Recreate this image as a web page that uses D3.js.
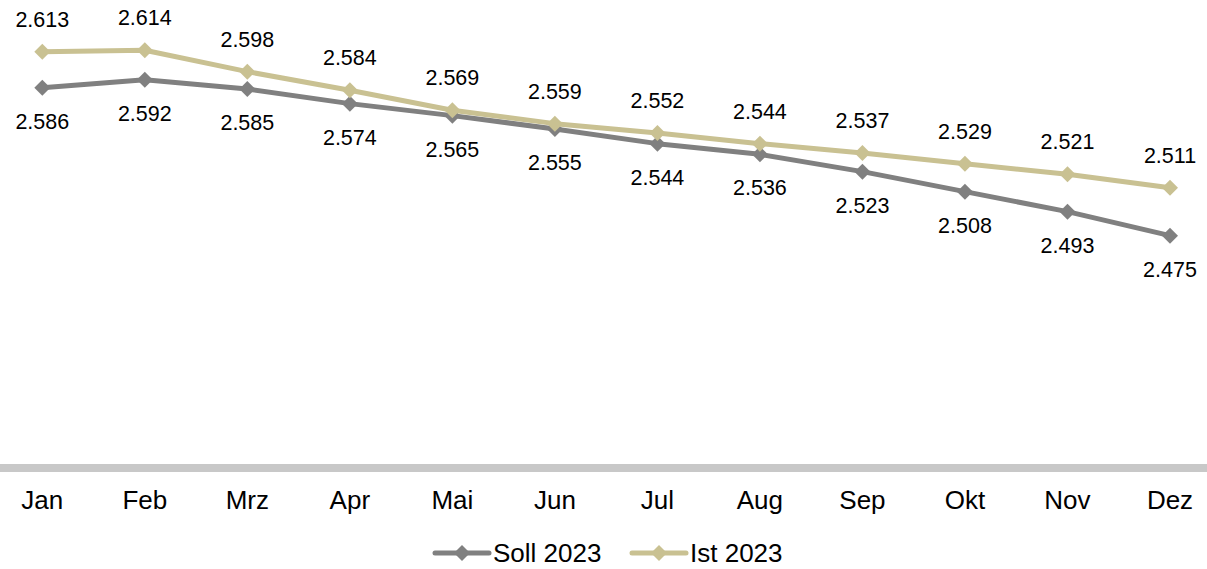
<!DOCTYPE html>
<html>
<head>
<meta charset="utf-8">
<script src="https://cdn.jsdelivr.net/npm/d3@7"></script>
<style>
  html, body { margin: 0; padding: 0; background: #fff; }
  svg { display: block; font-family: "Liberation Sans", Arial, sans-serif; }
</style>
</head>
<body>
<svg id="chart" width="1207" height="569"></svg>
<script>
const months = ["Jan", "Feb", "Mrz", "Apr", "Mai", "Jun", "Jul", "Aug", "Sep", "Okt", "Nov", "Dez"];
const soll2023 = [2586, 2592, 2585, 2574, 2565, 2555, 2544, 2536, 2523, 2508, 2493, 2475];
const ist2023 = [2613, 2614, 2598, 2584, 2569, 2559, 2552, 2544, 2537, 2529, 2521, 2511];
const seriesNames = ["Soll 2023", "Ist 2023"];
const yDomain = [2300, 2650];

const colors = { "Soll 2023": "#808080", "Ist 2023": "#C9C192" };
const series = [
  { name: seriesNames[0], values: soll2023, labelDy: 41 },
  { name: seriesNames[1], values: ist2023, labelDy: -25 }
];

const fmt = d3.formatLocale({ decimal: ",", thousands: ".", grouping: [3], currency: ["", "€"] }).format(",d");

const svg = d3.select("#chart");
const W = 1207, H = 569;

const x = d3.scalePoint().domain(months).range([42.3, 1170]);
const y = d3.scaleLinear().domain(yDomain).range([469, 2.3]);

// axis line
svg.append("line")
  .attr("x1", 0).attr("x2", W)
  .attr("y1", y(yDomain[0]) - 1).attr("y2", y(yDomain[0]) - 1)
  .attr("stroke", "#C8C8C8").attr("stroke-width", 8);

// month labels
svg.append("g").selectAll("text").data(months).join("text")
  .attr("x", d => x(d)).attr("y", 508.5)
  .attr("text-anchor", "middle")
  .attr("font-size", 26).attr("fill", "#000")
  .text(d => d);

const diamond = r => `M0,${-r}L${r},0L0,${r}L${-r},0Z`;
const line = d3.line().x((d, i) => x(months[i])).y(d => y(d));

series.forEach(s => {
  const g = svg.append("g");
  g.append("path").datum(s.values)
    .attr("d", line).attr("fill", "none")
    .attr("stroke", colors[s.name]).attr("stroke-width", 5)
    .attr("stroke-linejoin", "round");
  g.selectAll("path.m").data(s.values).join("path")
    .attr("class", "m")
    .attr("transform", (d, i) => `translate(${x(months[i])},${y(d)})`)
    .attr("d", diamond(8)).attr("fill", colors[s.name]);
});

series.forEach(s => {
  svg.append("g").selectAll("text").data(s.values).join("text")
    .attr("x", (d, i) => x(months[i])).attr("y", d => y(d) + s.labelDy)
    .attr("text-anchor", "middle").attr("font-size", 21.5).attr("fill", "#000")
    .text(d => fmt(d));
});

// legend
const legend = [
  { name: seriesNames[0], x0: 435 },
  { name: seriesNames[1], x0: 632 }
];
const ly = 553;
legend.forEach(l => {
  const g = svg.append("g");
  g.append("line").attr("x1", l.x0).attr("x2", l.x0 + 54)
    .attr("y1", ly).attr("y2", ly)
    .attr("stroke", colors[l.name]).attr("stroke-width", 5).attr("stroke-linecap", "round");
  g.append("path").attr("transform", `translate(${l.x0 + 27},${ly})`)
    .attr("d", diamond(8)).attr("fill", colors[l.name]);
  g.append("text").attr("x", l.x0 + 58).attr("y", ly + 9)
    .attr("font-size", 26).attr("fill", "#000").text(l.name);
});
</script>
</body>
</html>
